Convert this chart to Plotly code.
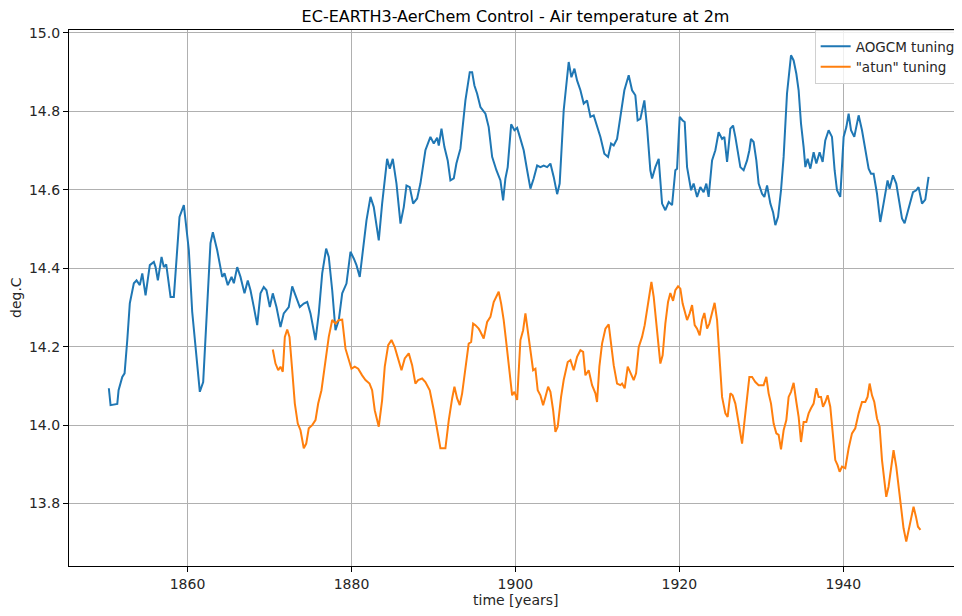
import plotly.graph_objects as go

# ---- data ----
aogcm_years = [1850.40, 1850.61, 1851.43, 1851.59, 1852.04, 1852.32, 1852.65, 1852.96, 1853.45, 1853.78,
               1854.18, 1854.48, 1854.88, 1855.40, 1855.89, 1856.10, 1856.38, 1856.83, 1857.11, 1857.40,
               1857.93, 1858.33, 1858.82, 1859.02, 1859.55, 1859.88, 1860.16, 1860.57, 1860.98, 1861.50,
               1861.91, 1862.32, 1862.80, 1863.09, 1863.62, 1864.23, 1864.51, 1864.91, 1865.37, 1865.65,
               1866.06, 1866.46, 1866.95, 1867.35, 1867.68, 1868.09, 1868.50, 1868.90, 1869.30, 1869.63,
               1870.04, 1870.40, 1870.85, 1871.34, 1871.74, 1872.35, 1872.77, 1873.17, 1873.70, 1874.18,
               1874.60, 1875.00, 1875.61, 1876.01, 1876.43, 1876.91, 1877.23, 1877.65, 1878.05, 1878.45,
               1878.87, 1879.39, 1879.88, 1880.28, 1880.61, 1881.01, 1881.43, 1881.83, 1882.32, 1882.72,
               1883.33, 1883.74, 1884.35, 1884.67, 1885.04, 1885.49, 1885.98, 1886.38, 1886.71, 1887.11,
               1887.52, 1888.01, 1888.41, 1889.02, 1889.63, 1890.04, 1890.45, 1890.65, 1890.98, 1891.34,
               1891.74, 1892.07, 1892.48, 1892.80, 1893.29, 1893.90, 1894.43, 1894.72, 1895.00, 1895.33,
               1895.73, 1896.34, 1896.74, 1897.16, 1897.68, 1898.17, 1898.50, 1898.78, 1899.06, 1899.48,
               1899.88, 1900.21, 1900.61, 1901.01, 1901.43, 1901.83, 1902.23, 1902.65, 1903.05, 1903.45,
               1903.87, 1904.27, 1904.67, 1905.09, 1905.40, 1905.89, 1906.50, 1906.83, 1907.20, 1907.52,
               1907.93, 1908.33, 1908.74, 1909.15, 1909.55, 1909.96, 1910.37, 1910.85, 1911.30, 1911.67,
               1911.99, 1912.40, 1912.80, 1913.29, 1913.82, 1914.23, 1914.63, 1914.91, 1915.24, 1915.52,
               1915.73, 1916.06, 1916.46, 1916.67, 1917.07, 1917.48, 1917.89, 1918.29, 1918.70, 1919.11,
               1919.51, 1919.72, 1920.04, 1920.40, 1920.65, 1920.94, 1921.43, 1921.74, 1922.16, 1922.56,
               1922.96, 1923.29, 1923.57, 1923.99, 1924.39, 1924.79, 1925.21, 1925.49, 1925.82, 1926.22,
               1926.55, 1926.83, 1927.11, 1927.44, 1927.84, 1928.26, 1928.54, 1928.74, 1929.06, 1929.39,
               1929.67, 1930.09, 1930.37, 1930.70, 1931.10, 1931.43, 1931.71, 1932.04, 1932.40, 1932.72,
               1933.13, 1933.62, 1933.94, 1934.27, 1934.55, 1934.84, 1935.16, 1935.37, 1935.65, 1935.98,
               1936.38, 1936.71, 1937.11, 1937.48, 1937.80, 1938.21, 1938.62, 1938.94, 1939.23, 1939.63,
               1940.04, 1940.37, 1940.65, 1940.94, 1941.34, 1941.87, 1942.28, 1942.68, 1943.09, 1943.38,
               1943.70, 1944.11, 1944.51, 1944.91, 1945.40, 1945.65, 1946.06, 1946.46, 1946.74, 1947.16,
               1947.48, 1947.84, 1948.17, 1948.50, 1948.90, 1949.18, 1949.60, 1950.00, 1950.40]
aogcm_temp = [14.094, 14.051, 14.054, 14.089, 14.123, 14.132, 14.217, 14.311, 14.362, 14.369,
              14.357, 14.387, 14.331, 14.408, 14.416, 14.403, 14.369, 14.429, 14.403, 14.410,
              14.327, 14.327, 14.471, 14.531, 14.561, 14.497, 14.446, 14.289, 14.199, 14.085,
              14.110, 14.260, 14.464, 14.492, 14.446, 14.378, 14.387, 14.357, 14.378, 14.362,
              14.403, 14.378, 14.336, 14.369, 14.344, 14.301, 14.255, 14.336, 14.352, 14.344,
              14.301, 14.336, 14.301, 14.250, 14.285, 14.301, 14.354, 14.331, 14.301, 14.310,
              14.314, 14.285, 14.217, 14.285, 14.387, 14.450, 14.429, 14.344, 14.242, 14.268,
              14.336, 14.361, 14.442, 14.425, 14.408, 14.378, 14.454, 14.522, 14.582, 14.556,
              14.471, 14.565, 14.679, 14.654, 14.679, 14.616, 14.514, 14.556, 14.611, 14.607,
              14.565, 14.578, 14.616, 14.701, 14.735, 14.718, 14.733, 14.713, 14.756, 14.709,
              14.675, 14.624, 14.629, 14.667, 14.705, 14.828, 14.900, 14.900, 14.866, 14.845,
              14.811, 14.794, 14.760, 14.684, 14.650, 14.624, 14.573, 14.629, 14.658, 14.767,
              14.752, 14.758, 14.730, 14.701, 14.650, 14.603, 14.629, 14.662, 14.658, 14.662,
              14.658, 14.667, 14.633, 14.589, 14.616, 14.803, 14.926, 14.887, 14.909, 14.879,
              14.854, 14.820, 14.828, 14.786, 14.790, 14.764, 14.735, 14.692, 14.684, 14.718,
              14.713, 14.730, 14.786, 14.854, 14.892, 14.854, 14.841, 14.777, 14.781, 14.811,
              14.828, 14.760, 14.650, 14.629, 14.658, 14.679, 14.565, 14.548, 14.569, 14.561,
              14.650, 14.654, 14.786, 14.777, 14.773, 14.658, 14.599, 14.616, 14.582, 14.607,
              14.594, 14.616, 14.582, 14.675, 14.701, 14.747, 14.730, 14.735, 14.671, 14.756,
              14.764, 14.735, 14.701, 14.658, 14.650, 14.675, 14.701, 14.730, 14.722, 14.675,
              14.616, 14.590, 14.582, 14.611, 14.565, 14.543, 14.510, 14.531, 14.599, 14.684,
              14.845, 14.943, 14.930, 14.896, 14.854, 14.769, 14.709, 14.658, 14.679, 14.654,
              14.696, 14.667, 14.696, 14.671, 14.726, 14.752, 14.735, 14.650, 14.599, 14.582,
              14.735, 14.760, 14.794, 14.752, 14.735, 14.790, 14.752, 14.705, 14.654, 14.641,
              14.641, 14.590, 14.518, 14.565, 14.624, 14.603, 14.637, 14.616, 14.582, 14.527,
              14.515, 14.543, 14.565, 14.594, 14.599, 14.607, 14.565, 14.575, 14.633]

atun_years = [1870.40, 1870.73, 1871.06, 1871.34, 1871.62, 1871.87, 1872.16, 1872.44, 1872.77, 1873.09,
              1873.45, 1873.78, 1874.18, 1874.48, 1874.79, 1875.21, 1875.61, 1875.94, 1876.34, 1876.74,
              1877.23, 1877.65, 1878.05, 1878.45, 1878.87, 1879.27, 1879.67, 1880.00, 1880.40, 1880.82,
              1881.30, 1881.71, 1882.20, 1882.52, 1882.84, 1883.33, 1883.74, 1884.06, 1884.48, 1884.88,
              1885.28, 1885.70, 1886.10, 1886.50, 1886.99, 1887.40, 1887.80, 1888.13, 1888.62, 1889.02,
              1889.55, 1890.04, 1890.45, 1890.85, 1891.46, 1891.87, 1892.28, 1892.56, 1892.89, 1893.21,
              1893.50, 1893.90, 1894.30, 1894.60, 1894.84, 1895.12, 1895.52, 1895.73, 1896.13, 1896.55,
              1896.95, 1897.35, 1897.68, 1897.96, 1898.26, 1898.57, 1898.90, 1899.18, 1899.60, 1899.88,
              1900.21, 1900.61, 1900.94, 1901.22, 1901.50, 1901.83, 1902.16, 1902.44, 1902.72, 1903.05,
              1903.38, 1903.66, 1903.99, 1904.27, 1904.60, 1904.88, 1905.16, 1905.57, 1905.89, 1906.38,
              1906.71, 1907.11, 1907.52, 1907.93, 1908.26, 1908.54, 1908.94, 1909.35, 1909.76, 1909.96,
              1910.24, 1910.57, 1910.98, 1911.38, 1911.71, 1911.99, 1912.40, 1912.80, 1913.01, 1913.33,
              1913.70, 1914.02, 1914.43, 1914.72, 1915.04, 1915.45, 1915.77, 1916.18, 1916.59, 1916.87,
              1917.20, 1917.48, 1917.68, 1917.96, 1918.29, 1918.62, 1918.90, 1919.23, 1919.51, 1919.84,
              1920.12, 1920.40, 1920.65, 1920.94, 1921.26, 1921.55, 1921.87, 1922.16, 1922.48, 1922.77,
              1923.05, 1923.38, 1923.66, 1923.99, 1924.30, 1924.60, 1924.88, 1925.21, 1925.61, 1925.89,
              1926.22, 1926.50, 1926.83, 1927.16, 1927.44, 1927.65, 1927.96, 1928.26, 1928.54, 1928.87,
              1929.27, 1929.67, 1930.28, 1930.61, 1930.89, 1931.18, 1931.50, 1931.83, 1932.11, 1932.40,
              1932.72, 1933.05, 1933.33, 1933.62, 1933.94, 1934.27, 1934.55, 1934.84, 1935.16, 1935.49,
              1935.77, 1936.06, 1936.38, 1936.71, 1936.99, 1937.28, 1937.52, 1937.80, 1938.09, 1938.41,
              1938.74, 1939.02, 1939.30, 1939.55, 1939.84, 1940.24, 1940.65, 1941.06, 1941.46, 1941.87,
              1942.28, 1942.68, 1942.96, 1943.21, 1943.50, 1943.78, 1944.11, 1944.43, 1944.72, 1945.00,
              1945.24, 1945.52, 1945.85, 1946.13, 1946.46, 1946.74, 1947.04, 1947.35, 1947.68, 1947.96,
              1948.26, 1948.57, 1948.87, 1949.11, 1949.41]
atun_temp = [14.193, 14.157, 14.140, 14.149, 14.136, 14.225, 14.244, 14.225, 14.140, 14.055,
             14.004, 13.987, 13.941, 13.953, 13.992, 14.000, 14.013, 14.055, 14.089, 14.149,
             14.225, 14.268, 14.259, 14.268, 14.269, 14.195, 14.166, 14.144, 14.149, 14.144,
             14.127, 14.115, 14.106, 14.089, 14.038, 13.996, 14.064, 14.149, 14.204, 14.217,
             14.199, 14.166, 14.140, 14.170, 14.183, 14.153, 14.106, 14.115, 14.119, 14.110,
             14.089, 14.038, 13.987, 13.941, 13.941, 14.013, 14.068, 14.098, 14.068, 14.051,
             14.081, 14.140, 14.208, 14.212, 14.259, 14.255, 14.246, 14.238, 14.221, 14.263,
             14.276, 14.314, 14.327, 14.340, 14.310, 14.268, 14.208, 14.157, 14.076, 14.085,
             14.064, 14.217, 14.242, 14.285, 14.242, 14.191, 14.140, 14.144, 14.089, 14.076,
             14.051, 14.072, 14.098, 14.085, 14.038, 13.983, 13.996, 14.072, 14.115, 14.161,
             14.166, 14.140, 14.174, 14.191, 14.187, 14.127, 14.140, 14.102, 14.081, 14.059,
             14.149, 14.208, 14.246, 14.257, 14.191, 14.153, 14.106, 14.102, 14.106, 14.094,
             14.149, 14.132, 14.115, 14.132, 14.199, 14.225, 14.255, 14.310, 14.365, 14.327,
             14.259, 14.208, 14.157, 14.178, 14.259, 14.314, 14.337, 14.317, 14.344, 14.354,
             14.348, 14.310, 14.289, 14.268, 14.285, 14.306, 14.255, 14.246, 14.229, 14.268,
             14.286, 14.246, 14.259, 14.289, 14.312, 14.268, 14.183, 14.072, 14.030, 14.021,
             14.081, 14.076, 14.055, 14.013, 13.979, 13.953, 14.013, 14.064, 14.123, 14.123,
             14.110, 14.102, 14.102, 14.123, 14.081, 14.055, 14.004, 13.979, 13.975, 13.938,
             13.987, 14.013, 14.072, 14.085, 14.108, 14.059, 14.021, 13.957, 14.008, 14.008,
             14.030, 14.043, 14.055, 14.094, 14.072, 14.072, 14.047, 14.059, 14.076, 14.047,
             13.979, 13.911, 13.898, 13.881, 13.894, 13.890, 13.941, 13.979, 13.992, 14.030,
             14.059, 14.059, 14.072, 14.106, 14.076, 14.059, 14.017, 13.996, 13.911, 13.851,
             13.817, 13.843, 13.894, 13.936, 13.894, 13.843, 13.792, 13.737, 13.703, 13.733,
             13.766, 13.792, 13.766, 13.741, 13.733]

x_ticks = [1860, 1880, 1900, 1920, 1940]
y_ticks = [13.8, 14.0, 14.2, 14.4, 14.6, 14.8, 15.0]

FONT = "DejaVu Sans, Liberation Sans, sans-serif"

# the page body adds an 8px offset; the figure is sized so that it ends at the window edge
W, H = 954, 608

fig = go.Figure()
fig.add_trace(go.Scatter(x=aogcm_years, y=aogcm_temp, mode="lines", name="AOGCM tuning",
                         line=dict(color="#1f77b4", width=2)))
fig.add_trace(go.Scatter(x=atun_years, y=atun_temp, mode="lines", name='"atun" tuning',
                         line=dict(color="#ff7f0e", width=2)))

fig.update_layout(
    width=W, height=H,
    margin=dict(l=61, r=0, t=22, b=50, autoexpand=False),
    paper_bgcolor="white", plot_bgcolor="white",
    font=dict(family=FONT, size=14, color="#262626"),
    title=dict(text="EC-EARTH3-AerChem Control - Air temperature at 2m",
               x=(61 + W) / 2 / W, xanchor="center", y=1 - 8 / H, yanchor="middle",
               yref="container", font=dict(size=16, color="black")),
    showlegend=True,
    legend=dict(x=0.9985, y=1.0, xanchor="right", yanchor="top",
                bgcolor="rgba(255,255,255,0.8)", bordercolor="#d0d0d0", borderwidth=1,
                font=dict(size=13.5, color="#262626"), tracegroupgap=0, itemwidth=30),
    xaxis=dict(range=[1845.54, 1954.48], tickvals=x_ticks, ticktext=[str(v) for v in x_ticks],
               showgrid=True, gridcolor="#b0b0b0", gridwidth=1,
               showline=True, linecolor="black", linewidth=1.2, mirror=True,
               ticks="outside", ticklen=5, tickcolor="black", zeroline=False,
               tickfont=dict(size=14, color="#262626")),
    yaxis=dict(range=[13.6408, 15.0076], tickvals=y_ticks, ticktext=[f"{v:.1f}" for v in y_ticks],
               showgrid=True, gridcolor="#b0b0b0", gridwidth=1,
               showline=True, linecolor="black", linewidth=1.2, mirror=False,
               ticks="outside", ticklen=5, tickcolor="black", zeroline=False,
               tickfont=dict(size=14, color="#262626")),
    annotations=[
        dict(text="time [years]", xref="paper", yref="paper", x=0.5, y=0,
             yshift=-34, xanchor="center", yanchor="middle", showarrow=False,
             font=dict(size=14, color="#262626")),
        dict(text="deg.C", xref="paper", yref="paper", x=0, xshift=-53, y=0.5,
             xanchor="center", yanchor="middle", textangle=-90, showarrow=False,
             font=dict(size=14, color="#262626")),
    ],
)

fig.write_html("out.html")
